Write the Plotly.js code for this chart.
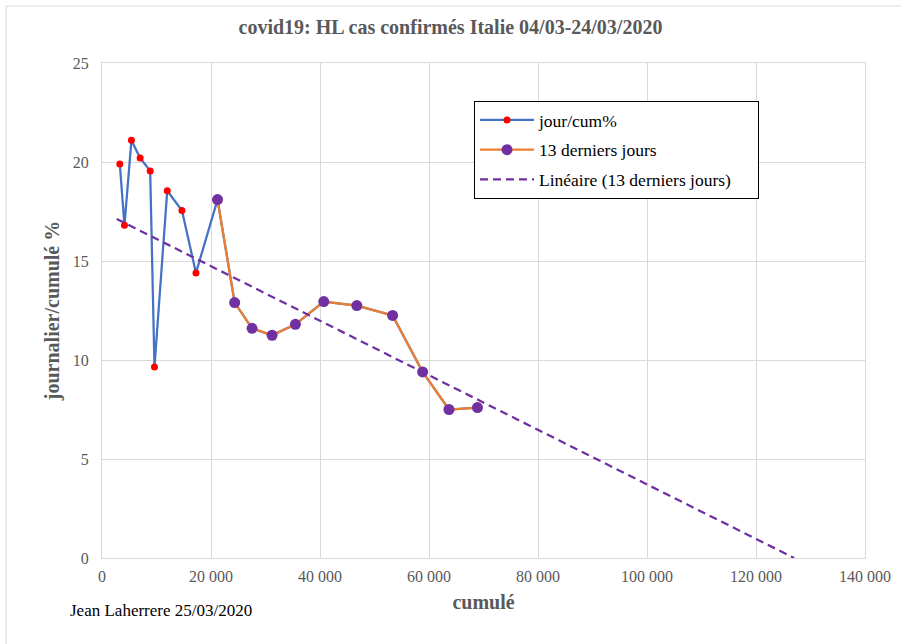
<!DOCTYPE html>
<html>
<head>
<meta charset="utf-8">
<script src="https://cdn.plot.ly/plotly-3.0.1.min.js"></script>
<style>
  html, body { margin: 0; padding: 0; background: #fff; }
  #chart { width: 901px; height: 644px; }
</style>
</head>
<body>
<div id="chart"></div>
<script>
// cumulative confirmed cases (x) and daily/cumulative % (y)
const cumul = [3270, 4120, 5400, 7000, 8840, 9630, 11970, 14670, 17240, 21200,
               24340, 27530, 31210, 35490, 40690, 46760, 53320, 58830, 63670, 68890];
const jourCum = [19.9, 16.8, 21.1, 20.2, 19.55, 9.65, 18.55, 17.55, 14.4, 18.1,
                 12.9, 11.6, 11.25, 11.8, 12.95, 12.75, 12.25, 9.4, 7.5, 7.6];

// last days series
const lastCumul = [21200, 24340, 27530, 31210, 35490, 40690, 46760, 53320, 58830, 63670, 68890];
const lastJourCum = [18.1, 12.9, 11.6, 11.25, 11.8, 12.95, 12.75, 12.25, 9.4, 7.5, 7.6];

// linear trend (13 derniers jours) end points
const trendX = [2700, 127000];
const trendY = [17.12, 0];

const xTicks = [0, 20000, 40000, 60000, 80000, 100000, 120000, 140000];
const yTicks = [0, 5, 10, 15, 20, 25];

const serif = "'Liberation Serif', 'Times New Roman', serif";
const gray = '#595959';
const grid = '#d9d9d9';
const pad = '&nbsp;&nbsp;&nbsp;&nbsp;&nbsp;';

const traces = [
  {
    x: cumul, y: jourCum, name: 'jour/cum%', type: 'scatter', mode: 'lines+markers',
    line: { color: '#4472C4', width: 2.25 },
    marker: { color: '#FF0000', size: 7 },
    legendgroup: 'a'
  },
  {
    x: lastCumul, y: lastJourCum, name: '13 derniers jours', type: 'scatter', mode: 'lines+markers',
    line: { color: '#ED7D31', width: 2.25 },
    marker: { color: '#7030A0', size: 11 },
    legendgroup: 'b'
  },
  {
    x: trendX, y: trendY, name: 'Linéaire (13 derniers jours)' + pad, type: 'scatter', mode: 'lines',
    line: { color: '#7030A0', width: 2.25, dash: '8px,5px' },
    legendgroup: 'c'
  }
];

const layout = {
  width: 901, height: 644,
  margin: { l: 102, r: 36, t: 63, b: 86 },
  paper_bgcolor: '#fff', plot_bgcolor: '#fff',
  separators: ', ',
  font: { family: serif, size: 16, color: gray },
  title: {
    text: '<b>covid19: HL cas confirmés Italie 04/03-24/03/2020</b>',
    font: { family: serif, size: 20, color: gray },
    x: 0.5, xanchor: 'center', y: 1 - 27 / 644, yanchor: 'middle'
  },
  xaxis: {
    range: [0, 140000], tickvals: xTicks, tickformat: ',d',
    showgrid: true, gridcolor: grid, gridwidth: 1,
    showline: true, linecolor: grid, linewidth: 1, mirror: true,
    zeroline: false, ticks: '', ticklen: 0, ticklabelstandoff: 4,
    tickfont: { family: serif, size: 16, color: gray },
    title: { text: '<b>cumulé</b>', font: { family: serif, size: 20, color: gray }, standoff: 10 }
  },
  yaxis: {
    range: [0, 25], tickvals: yTicks,
    showgrid: true, gridcolor: grid, gridwidth: 1,
    showline: true, linecolor: grid, linewidth: 1, mirror: true,
    zeroline: false, ticks: '', ticklen: 0, ticklabelstandoff: 9,
    tickfont: { family: serif, size: 16, color: gray },
    title: { text: '<b>journalier/cumulé %</b>', font: { family: serif, size: 20, color: gray }, standoff: 7 }
  },
  showlegend: true,
  legend: {
    x: (474 - 102) / 763, xanchor: 'left',
    y: 1 - (101 - 63) / 495, yanchor: 'top',
    bgcolor: '#fff', bordercolor: '#000', borderwidth: 1,
    font: { family: serif, size: 17.5, color: '#000' },
    tracegroupgap: 4, traceorder: 'grouped', itemwidth: 54
  },
  annotations: [
    {
      text: 'Jean Laherrere 25/03/2020', xref: 'paper', yref: 'paper',
      x: (68 - 102) / 763, xanchor: 'left', y: (558 - 610) / 495, yanchor: 'middle',
      showarrow: false, font: { family: serif, size: 17, color: '#000' }
    }
  ],
  shapes: [
    {
      type: 'rect', xref: 'paper', yref: 'paper',
      x0: (6 - 102) / 763, x1: 2, y0: -2, y1: 1 + (63 - 6) / 495,
      line: { color: grid, width: 1 }, fillcolor: 'rgba(0,0,0,0)', layer: 'below'
    }
  ]
};

Plotly.newPlot('chart', traces, layout, { displayModeBar: false, staticPlot: true });
</script>
</body>
</html>
